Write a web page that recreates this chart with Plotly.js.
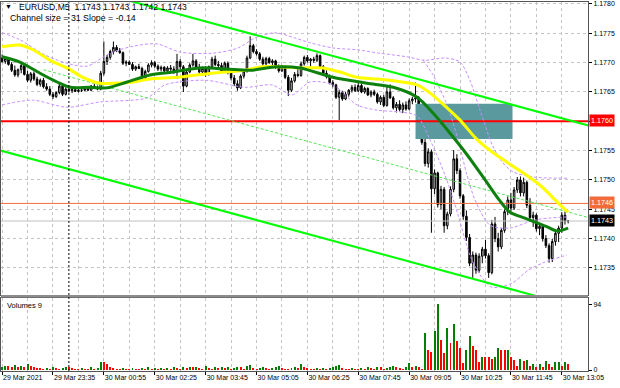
<!DOCTYPE html>
<html><head><meta charset="utf-8">
<script src="https://cdn.plot.ly/plotly-3.0.1.min.js"></script>
<style>html,body{margin:0;padding:0;background:#fff;}#chart{width:620px;height:388px;}</style>
</head><body><div id="chart"></div>
<script>
// prices are stored in pips above 1.1700 (price = 1.1700 + pips/10000); x = bar index (M5 bars)
const BASE = 1.17;
const tickBars = [0,16,32,48,64,80,96,112,128,144,160,176];
const tickLabels = ['29 Mar 2021','29 Mar 23:35','30 Mar 00:55','30 Mar 02:25','30 Mar 03:45','30 Mar 05:05','30 Mar 06:25','30 Mar 07:45','30 Mar 09:05','30 Mar 10:25','30 Mar 11:45','30 Mar 13:05'];
const priceTicks = [1.1735,1.1740,1.1745,1.1750,1.1755,1.1760,1.1765,1.1770,1.1775,1.1780];

const openPips = [70.8,70.2,70.7,69.7,68.7,67.9,68.8,69.5,68.0,67.0,68.1,67.2,66.3,67.0,65.9,65.5,64.6,64.2,64.9,66.0,
64.6,65.5,65.2,65.4,65.1,65.3,65.3,65.6,65.3,66.0,65.8,65.5,68.2,70.2,70.9,71.9,72.6,72.0,71.7,69.9,
70.1,69.7,68.9,69.3,69.0,67.4,68.5,69.6,70.0,69.4,68.9,69.2,68.6,69.1,68.9,68.5,70.2,69.3,66.0,68.4,
69.6,70.3,69.2,68.4,69.0,68.0,69.3,70.6,69.7,69.5,68.5,69.9,68.3,67.4,66.4,65.7,67.7,68.6,70.8,72.9,
71.9,71.5,70.6,69.8,70.7,70.0,70.3,69.2,68.6,69.3,67.5,65.3,66.9,68.0,67.8,69.8,70.9,70.3,70.6,70.4,
71.2,69.3,68.2,67.6,66.6,66.2,64.1,64.9,63.8,64.6,65.3,65.8,65.2,66.1,65.0,65.6,64.5,65.0,64.6,63.3,
64.1,62.7,65.0,64.0,62.3,62.9,62.0,62.8,62.1,63.5,63.8,64.0,60.9,56.4,52.8,54.8,48.5,51.2,45.8,48.4,
42.2,44.2,48.4,53.6,51.6,47.3,43.8,40.2,35.8,37.2,34.6,37.0,38.2,37.1,34.2,42.5,40.0,38.6,41.4,44.6,
46.6,45.2,48.3,50.0,47.8,49.6,45.7,43.6,44.0,41.7,42.1,40.0,38.8,36.6,39.5,40.9,41.8,44.0,43.0];
const highPips = [71.4,71.0,70.9,70.1,69.5,69.0,69.9,69.8,68.6,68.4,68.5,67.6,67.3,67.4,66.5,66.0,65.0,65.1,66.4,66.3,
65.8,65.9,65.6,65.7,65.6,65.5,65.8,65.8,66.2,66.4,66.1,68.6,73.6,71.3,72.2,73.6,73.0,72.5,71.9,70.4,
70.4,70.1,69.5,69.8,69.3,68.8,69.9,70.4,70.3,69.7,69.5,69.4,69.4,69.6,69.4,71.5,70.6,69.6,68.8,69.9,
71.5,70.6,69.8,69.3,69.4,69.5,71.0,71.2,70.3,70.0,70.2,70.2,68.8,67.9,67.0,68.0,68.9,71.2,74.5,73.2,
72.3,71.8,71.0,71.0,71.0,70.6,70.5,69.7,69.6,69.5,67.9,67.4,68.4,68.9,70.2,71.2,71.3,70.8,71.0,71.6,
71.4,69.6,68.7,68.0,67.0,66.4,65.4,65.2,65.0,65.5,66.2,66.3,66.6,66.4,65.9,65.8,65.3,65.4,64.9,64.4,
64.5,66.0,66.3,64.3,63.3,63.6,63.2,63.4,63.9,64.2,66.6,64.3,61.2,57.0,55.4,55.2,51.8,51.4,49.0,48.8,
44.6,48.9,55.1,54.4,52.0,47.6,44.8,40.8,37.8,37.6,37.5,38.6,39.8,37.5,43.2,43.7,41.0,41.8,45.0,47.2,
47.8,48.8,50.5,50.6,50.4,49.9,46.9,44.6,44.3,42.6,42.4,40.6,39.2,40.0,41.4,42.2,44.5,44.6,43.1];
const lowPips = [70.0,69.8,69.5,68.4,67.6,67.5,68.2,67.8,66.7,66.6,66.9,66.0,65.9,65.6,65.2,64.3,63.8,64.0,64.6,64.3,
64.4,64.9,64.8,65.0,64.9,65.0,65.1,65.2,65.2,65.7,65.3,65.3,67.8,69.6,70.5,71.4,71.8,71.5,69.6,69.4,
69.6,68.6,68.6,68.9,67.0,67.2,68.3,69.2,69.1,68.6,68.5,68.3,68.4,68.6,68.1,67.2,68.9,65.0,65.8,68.2,
69.3,69.0,68.1,67.8,67.6,67.8,69.0,69.4,69.0,68.2,68.3,68.0,67.0,66.0,65.2,65.5,67.3,68.3,70.6,71.6,
71.2,70.3,69.5,69.6,69.8,69.3,68.9,68.3,68.4,67.2,64.3,65.0,66.6,67.5,67.6,69.5,70.0,69.4,70.0,70.1,
69.1,67.9,67.3,66.3,65.8,63.8,60.2,63.5,63.6,64.2,64.9,65.0,65.0,64.8,64.7,64.3,64.1,64.3,63.0,62.8,
62.4,62.5,63.8,62.0,61.5,61.7,61.4,61.8,61.9,62.9,63.2,60.5,56.0,52.3,52.1,41.0,47.6,45.3,45.0,41.0,
41.6,43.8,47.9,51.0,46.8,43.2,39.6,35.3,33.3,34.0,34.2,35.8,36.6,33.3,33.9,39.4,37.8,38.2,41.0,44.0,
44.6,44.9,47.8,47.2,47.2,45.2,43.0,42.0,41.2,40.6,39.5,38.4,35.9,36.0,38.8,39.4,41.0,42.4,42.6];
const closePips = [70.2,70.7,69.7,68.7,67.9,68.8,69.5,68.0,67.0,68.1,67.2,66.3,67.0,65.9,65.5,64.6,64.2,64.9,66.0,64.6,
65.5,65.2,65.4,65.1,65.3,65.3,65.6,65.3,66.0,65.8,65.5,68.2,70.2,70.9,71.9,72.6,72.0,71.7,69.9,70.1,
69.7,68.9,69.3,69.0,67.4,68.5,69.6,70.0,69.4,68.9,69.2,68.6,69.1,68.9,68.5,70.2,69.3,66.0,68.4,69.6,
70.3,69.2,68.4,69.0,68.0,69.3,70.6,69.7,69.5,68.5,69.9,68.3,67.4,66.4,65.7,67.7,68.6,70.8,72.9,71.9,
71.5,70.6,69.8,70.7,70.0,70.3,69.2,68.6,69.3,67.5,65.3,66.9,68.0,67.8,69.8,70.9,70.3,70.6,70.4,71.2,
69.3,68.2,67.6,66.6,66.2,64.1,64.9,63.8,64.6,65.3,65.8,65.2,66.1,65.0,65.6,64.5,65.0,64.6,63.3,64.1,
62.7,65.0,64.0,62.3,62.9,62.0,62.8,62.1,63.5,63.8,64.0,60.9,56.4,52.8,54.8,48.5,51.2,45.8,48.4,42.2,
44.2,48.4,53.6,51.6,47.3,43.8,40.2,35.8,37.2,34.6,37.0,38.2,37.1,34.2,42.5,40.0,38.6,41.4,44.6,46.6,
45.2,48.3,50.0,47.8,49.6,45.7,43.6,44.0,41.7,42.1,40.0,38.8,36.6,39.5,40.9,41.8,44.0,43.0,43.0];
const volumes = [5,6,6,5,7,4,6,5,9,6, 4,3,3,2,3,2,4,3,2,3, 5,4,3,2,2,3,2,2,4,2, 3,12,11,9,4,3,2,2,3,2,
2,3,2,2,3,2,4,2,3,2, 3,2,3,2,4,3,2,5,3,4, 4,5,3,2,6,3,2,4,3,5, 3,4,2,3,5,4,2,6,7,3,
2,3,5,3,2,3,4,6,3,2, 2,3,4,3,9,4,3,2,2,3, 2,3,2,3,4,6,7,3,2,2, 3,2,2,3,2,4,3,2,5,4,
2,3,4,6,5,3,2,4, 10,4,6,5,2, 53,29,26,56,94, 43,24,60,39,65, 42,32,10,29,49, 34,29,11,19,19,
19,15,18,31,29, 28,29,19,14,6, 15,13,14,6,8, 4,8,4,13,9, 5,11,12,6,11, 9];

// moving averages (bar index, pips)
const maSlowBars = [0,5.6,9.7,15.1,20.4,25.4,30.8,35.5,41.2,46.5,55.3,66,76.4,81.7,86.8,93.7,100.9,106.3,111.6,122,130.5,134.6,138.7,144,149,154,159.1,164.4,169.8,174.8,178];
const maSlowPips = [72.67,73.01,72.16,70.45,69.09,67.55,66.53,66.53,66.70,67.21,67.55,68.24,68.75,69.26,69.26,69.09,69.09,68.41,67.55,67.04,66.19,64.83,62.95,60.22,57.15,54.77,52.89,51.02,48.80,46.07,44.54];
const maFastBars = [0,5.6,11.9,17.3,21.4,27.6,33,39.3,46.5,53.7,62.2,70.7,78,86.4,93.7,104,114.7,123,130.5,135.5,140.8,146.2,151.5,156.3,159.7,164.4,167.6,171.4,174.5,178];
const maFastPips = [70.96,70.11,68.24,66.70,65.85,65.85,65.68,66.70,67.89,68.41,69.09,68.92,68.75,69.26,69.09,67.55,66.53,65.85,64.14,61.42,58.01,54.26,50.34,46.59,44.54,43.52,42.83,41.98,41.30,41.81];
// envelope bands (dashed violet)
const bandUpBars = [0,5.6,13.5,20.4,26.7,33.9,41.2,48.7,56,66,74.2,79.5,85.8,92.1,96.8,104.1,111.6,118.8,127.3,133,139.3,144,147.1,150.3,154.1,157.2,160.6,167,177.6];
const bandUpPips = [75.05,73.86,71.3,69.94,69.43,71.64,72.84,73.18,71.82,71.64,72.5,74.2,75.05,74.2,73.35,72.5,72.16,71.64,70.96,70.45,70.79,70.11,67.04,61.93,55.96,53.06,51.36,50.51,50.34];
const bandLowBars = [0,9.7,20.4,30.8,45.6,51.2,63.8,76.4,84.9,91.2,96.8,104.1,111.6,117.9,125.1,130.5,134.6,139.3,143.4,147.1,150.3,154.1,160.3,165.4,170.7,177.6];
const bandLowPips = [62.78,63.63,62.44,63.29,63.97,66.19,67.04,65.85,66.19,64.48,66.7,66.19,62.78,61.93,61.59,60.9,56.81,50.85,44.03,37.21,33.8,31.75,32.44,34.65,36.02,37.21];
const bandMidBars = [132.4,135.5,139.9,143.4,146.2,148.7,153.4,159.7,167.6,177.6];
const bandMidPips = [70.45,67.89,62.78,56.81,50.85,46.59,42.32,41.81,43.18,43.69];
// equidistant channel (slope -0.147 pip/bar, size 31)
const chanBars = [-1,185];
const chanUpperPips = [86.57,59.21];
const chanLowerPips = [55.07,27.71];
const chanMidBars = [13,185];
const chanMidPips = [68.76,43.46];
// horizontal levels, zone rectangle, day separator
const levelPrices = [1.1760,1.1746,1.1743];
const levelColors = ['#ff0000','#f26b3a','#c0c0c0'];
const levelWidths = [2,1,1];
const levelBoxColors = ['#ff0000','#f26b3a','#000000'];
const zoneBars = [130,160.5];
const zonePrices = [1.1757,1.1763];
const separatorBar = 21;

const P = a => a.map(v => +(BASE + v/10000).toFixed(5));
const idx = openPips.map((_,i)=>i);
const volColors = volumes.map((v,i)=> (i===0 || v>volumes[i-1]) ? '#008000' : '#ff0000');
const xRange = [-0.35, 184.24];

const dashPurple = {color:'#c690ff', width:1, dash:'3px,2px', shape:'spline', smoothing:0.8};
const traces = [
  // zone rectangle as a filled trace so it covers the dotted grid
  {type:'scatter', mode:'lines', x:[zoneBars[0],zoneBars[1],zoneBars[1],zoneBars[0],zoneBars[0]],
   y:[zonePrices[0],zonePrices[0],zonePrices[1],zonePrices[1],zonePrices[0]],
   fill:'toself', fillcolor:'#5a9a9e', line:{width:0, color:'#5a9a9e'}, hoverinfo:'skip'}
];
// horizontal level lines as traces so they sit above the dotted grid
levelPrices.forEach((p,k)=>traces.push({type:'scatter', mode:'lines', x:xRange, y:[p,p],
  line:{color:levelColors[k], width:levelWidths[k]}, hoverinfo:'skip'}));
traces.push(
  {type:'scatter', mode:'lines', x:bandUpBars, y:P(bandUpPips), line:dashPurple, hoverinfo:'skip'},
  {type:'scatter', mode:'lines', x:bandLowBars, y:P(bandLowPips), line:dashPurple, hoverinfo:'skip'},
  {type:'scatter', mode:'lines', x:bandMidBars, y:P(bandMidPips), line:dashPurple, hoverinfo:'skip'},
  {type:'scatter', mode:'lines', x:chanMidBars, y:P(chanMidPips), line:{color:'#55e655', width:1, dash:'3px,2px'}, hoverinfo:'skip'},
  {type:'candlestick', x:idx, open:P(openPips), high:P(highPips), low:P(lowPips), close:P(closePips),
   increasing:{line:{color:'#000000', width:1}, fillcolor:'#d8d8d8'},
   decreasing:{line:{color:'#000000', width:1}, fillcolor:'#000000'}, whiskerwidth:0, hoverinfo:'skip'},
  {type:'scatter', mode:'lines', x:chanBars, y:P(chanUpperPips), line:{color:'#00ff00', width:2}, hoverinfo:'skip'},
  {type:'scatter', mode:'lines', x:chanBars, y:P(chanLowerPips), line:{color:'#00ff00', width:2}, hoverinfo:'skip'},
  {type:'scatter', mode:'lines', x:maSlowBars, y:P(maSlowPips), line:{color:'#ffff00', width:3, shape:'spline', smoothing:0.8}, hoverinfo:'skip'},
  {type:'scatter', mode:'lines', x:maFastBars, y:P(maFastPips), line:{color:'#0e800e', width:3, shape:'spline', smoothing:0.8}, hoverinfo:'skip'},
  {type:'bar', x:idx, y:volumes, xaxis:'x2', yaxis:'y2', marker:{color:volColors, line:{width:0}}, width:0.62, hoverinfo:'skip'}
);

const gridCol = '#c4c4c4';
const font = {family:'Liberation Sans, Arial, sans-serif', size:7, color:'#000'};
const shapes = [
  {type:'rect', xref:'paper', yref:'paper', x0:0, x1:1, y0:0.199, y1:0.206, fillcolor:'#8c8c8c', line:{width:0}},
  {type:'line', xref:'x', yref:'paper', x0:separatorBar, x1:separatorBar, y0:0, y1:1, line:{color:'#000', width:1, dash:'2px,2px'}}
];

const annotations = [
  {xref:'paper', yref:'paper', x:0.003, y:0.9875, xanchor:'left', yanchor:'middle', text:'▼', showarrow:false, font:{...font, size:7}},
  {xref:'paper', yref:'paper', x:0.0273, y:0.9875, xanchor:'left', yanchor:'middle', text:'EURUSD,M5  1.1743 1.1743 1.1742 1.1743', showarrow:false, font:{...font, size:8.6}},
  {xref:'paper', yref:'paper', x:0.0119, y:0.956, xanchor:'left', yanchor:'middle', text:'Channel size = 31 Slope = -0.14', showarrow:false, font:{...font, size:8.8}},
  {xref:'paper', yref:'paper', x:0.0068, y:0.178, xanchor:'left', yanchor:'middle', text:'Volumes 9', showarrow:false, font:{...font, size:7.5}}
];
levelPrices.forEach((p,k)=>annotations.push({xref:'paper', yref:'y', x:1, y:p, xanchor:'left', yanchor:'middle', xshift:1, yshift:1,
  text:p.toFixed(4), showarrow:false, bgcolor:levelBoxColors[k], borderpad:1, font:{...font, size:7.2, color:'#fff'}}));

// price tick labels: the one under the red level box is covered in the reference
const priceTickText = priceTicks.map(v => levelPrices[0].toFixed(4) === v.toFixed(4) ? '' : v.toFixed(4));

const layout = {
  width:620, height:388, margin:{l:1, r:32, t:2, b:17}, paper_bgcolor:'#fff', plot_bgcolor:'#fff',
  showlegend:false, font:font, shapes:shapes, annotations:annotations, bargap:0,
  xaxis:{domain:[0,1], anchor:'y', range:xRange, rangeslider:{visible:false}, tickmode:'array', tickvals:tickBars,
    showticklabels:false, ticks:'', showgrid:true, gridcolor:gridCol, griddash:'dot',
    minor:{tick0:0, dtick:8, showgrid:true, gridcolor:gridCol, griddash:'dot', ticks:''},
    zeroline:false, showline:true, mirror:true, linecolor:'#555', linewidth:1},
  yaxis:{domain:[0.206,1], anchor:'x', side:'right', range:[1.173039,1.178034], tickmode:'array', tickvals:priceTicks,
    ticktext:priceTickText, ticks:'outside', ticklen:3, tickcolor:'#000',
    showgrid:true, gridcolor:gridCol, griddash:'dot', zeroline:false, showline:true, mirror:true, linecolor:'#555', linewidth:1},
  xaxis2:{domain:[0,1], anchor:'y2', range:xRange, tickmode:'array', tickvals:tickBars, ticktext:tickLabels,
    ticklabelposition:'outside right', ticks:'outside', ticklen:3, tickcolor:'#000',
    showgrid:true, gridcolor:gridCol, griddash:'dot',
    minor:{tick0:0, dtick:8, showgrid:true, gridcolor:gridCol, griddash:'dot', ticks:''},
    zeroline:false, showline:true, mirror:true, linecolor:'#555', linewidth:1},
  yaxis2:{domain:[0,0.199], anchor:'x2', side:'right', range:[-1.4,103.3], tickmode:'array', tickvals:[0,94], ticktext:['0','94'],
    ticks:'outside', ticklen:3, tickcolor:'#000', showgrid:false, zeroline:false, showline:true, mirror:true, linecolor:'#555', linewidth:1}
};
Plotly.newPlot('chart', traces, layout, {staticPlot:true, displayModeBar:false});
</script></body></html>
